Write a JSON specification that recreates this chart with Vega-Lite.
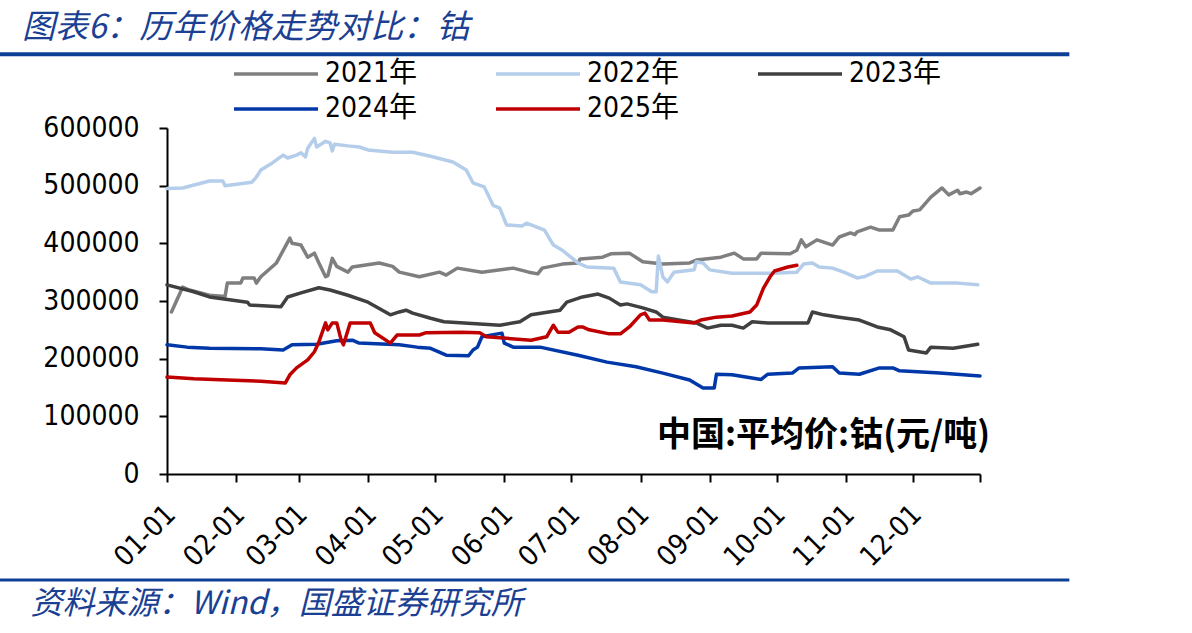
{
  "$schema": "https://vega.github.io/schema/vega-lite/v6.json",
  "width": 813,
  "height": 346,
  "autosize": {"type": "none"},
  "padding": {"left": 167, "top": 128, "right": 212, "bottom": 159},
  "background": "white",
  "title": {
    "text": "图表6：历年价格走势对比：钴",
    "anchor": "start",
    "frame": "group",
    "dx": -145,
    "offset": -26,
    "baseline": "bottom",
    "font": "Noto Sans CJK SC",
    "fontSize": 33,
    "fontStyle": "italic",
    "fontWeight": "normal",
    "color": "#1B3F93"
  },
  "config": {
    "view": {"stroke": null},
    "axis": {
      "domainColor": "black",
      "domainWidth": 2,
      "tickColor": "black",
      "tickWidth": 2,
      "tickSize": 8,
      "labelFont": "DejaVu Sans Condensed",
      "labelFontSize": 28,
      "labelColor": "black",
      "grid": false
    },
    "legend": {
      "title": null,
      "orient": "none",
      "legendX": 93,
      "legendY": -70,
      "direction": "horizontal",
      "columns": 3,
      "columnPadding": 71,
      "rowPadding": 5,
      "padding": 0,
      "symbolType": "M-3,0H3",
      "symbolSize": 784,
      "labelFont": "DejaVu Sans Condensed, Noto Sans CJK SC",
      "labelFontSize": 28,
      "labelColor": "black",
      "labelOffset": 33,
      "labelLimit": 300
    }
  },
  "layer": [
    {
      "data": {
        "format": {"parse": {"md": "date:'%m-%d'"}},
        "values": [
          {"year": "2021年", "md": "01-03", "price": 281000},
          {"year": "2021年", "md": "01-08", "price": 324000},
          {"year": "2021年", "md": "01-11", "price": 319000},
          {"year": "2021年", "md": "01-20", "price": 310000},
          {"year": "2021年", "md": "01-27", "price": 308000},
          {"year": "2021年", "md": "01-28", "price": 331000},
          {"year": "2021年", "md": "02-03", "price": 331000},
          {"year": "2021年", "md": "02-04", "price": 340000},
          {"year": "2021年", "md": "02-09", "price": 340000},
          {"year": "2021年", "md": "02-10", "price": 331000},
          {"year": "2021年", "md": "02-12", "price": 342000},
          {"year": "2021年", "md": "02-19", "price": 366000},
          {"year": "2021年", "md": "02-25", "price": 409000},
          {"year": "2021年", "md": "02-26", "price": 400000},
          {"year": "2021年", "md": "03-02", "price": 397000},
          {"year": "2021年", "md": "03-05", "price": 376000},
          {"year": "2021年", "md": "03-08", "price": 383000},
          {"year": "2021年", "md": "03-10", "price": 366000},
          {"year": "2021年", "md": "03-13", "price": 342000},
          {"year": "2021年", "md": "03-14", "price": 344000},
          {"year": "2021年", "md": "03-16", "price": 374000},
          {"year": "2021年", "md": "03-18", "price": 360000},
          {"year": "2021年", "md": "03-23", "price": 350000},
          {"year": "2021年", "md": "03-25", "price": 359000},
          {"year": "2021年", "md": "04-06", "price": 366000},
          {"year": "2021年", "md": "04-12", "price": 360000},
          {"year": "2021年", "md": "04-15", "price": 350000},
          {"year": "2021年", "md": "04-24", "price": 342000},
          {"year": "2021年", "md": "05-03", "price": 350000},
          {"year": "2021年", "md": "05-06", "price": 345000},
          {"year": "2021年", "md": "05-11", "price": 357000},
          {"year": "2021年", "md": "05-22", "price": 350000},
          {"year": "2021年", "md": "06-05", "price": 357000},
          {"year": "2021年", "md": "06-12", "price": 350000},
          {"year": "2021年", "md": "06-16", "price": 347000},
          {"year": "2021年", "md": "06-18", "price": 357000},
          {"year": "2021年", "md": "06-27", "price": 364000},
          {"year": "2021年", "md": "07-04", "price": 366000},
          {"year": "2021年", "md": "07-05", "price": 373000},
          {"year": "2021年", "md": "07-15", "price": 376000},
          {"year": "2021年", "md": "07-19", "price": 382000},
          {"year": "2021年", "md": "07-27", "price": 383000},
          {"year": "2021年", "md": "08-02", "price": 368000},
          {"year": "2021年", "md": "08-11", "price": 364000},
          {"year": "2021年", "md": "08-23", "price": 366000},
          {"year": "2021年", "md": "08-26", "price": 371000},
          {"year": "2021年", "md": "09-06", "price": 376000},
          {"year": "2021年", "md": "09-12", "price": 383000},
          {"year": "2021年", "md": "09-16", "price": 373000},
          {"year": "2021年", "md": "09-22", "price": 373000},
          {"year": "2021年", "md": "09-24", "price": 383000},
          {"year": "2021年", "md": "10-07", "price": 382000},
          {"year": "2021年", "md": "10-10", "price": 388000},
          {"year": "2021年", "md": "10-12", "price": 406000},
          {"year": "2021年", "md": "10-14", "price": 394000},
          {"year": "2021年", "md": "10-19", "price": 406000},
          {"year": "2021年", "md": "10-26", "price": 397000},
          {"year": "2021年", "md": "10-29", "price": 411000},
          {"year": "2021年", "md": "11-03", "price": 418000},
          {"year": "2021年", "md": "11-05", "price": 415000},
          {"year": "2021年", "md": "11-06", "price": 420000},
          {"year": "2021年", "md": "11-12", "price": 428000},
          {"year": "2021年", "md": "11-16", "price": 423000},
          {"year": "2021年", "md": "11-22", "price": 423000},
          {"year": "2021年", "md": "11-25", "price": 446000},
          {"year": "2021年", "md": "11-29", "price": 449000},
          {"year": "2021年", "md": "12-01", "price": 456000},
          {"year": "2021年", "md": "12-04", "price": 458000},
          {"year": "2021年", "md": "12-09", "price": 480000},
          {"year": "2021年", "md": "12-14", "price": 496000},
          {"year": "2021年", "md": "12-17", "price": 484000},
          {"year": "2021年", "md": "12-21", "price": 492000},
          {"year": "2021年", "md": "12-22", "price": 486000},
          {"year": "2021年", "md": "12-25", "price": 489000},
          {"year": "2021年", "md": "12-27", "price": 486000},
          {"year": "2021年", "md": "12-31", "price": 496000},

          {"year": "2022年", "md": "01-01", "price": 495000},
          {"year": "2022年", "md": "01-08", "price": 496000},
          {"year": "2022年", "md": "01-20", "price": 508000},
          {"year": "2022年", "md": "01-26", "price": 508000},
          {"year": "2022年", "md": "01-27", "price": 500000},
          {"year": "2022年", "md": "02-08", "price": 506000},
          {"year": "2022年", "md": "02-10", "price": 515000},
          {"year": "2022年", "md": "02-12", "price": 527000},
          {"year": "2022年", "md": "02-17", "price": 539000},
          {"year": "2022年", "md": "02-22", "price": 553000},
          {"year": "2022年", "md": "02-24", "price": 548000},
          {"year": "2022年", "md": "02-28", "price": 553000},
          {"year": "2022年", "md": "03-02", "price": 557000},
          {"year": "2022年", "md": "03-04", "price": 550000},
          {"year": "2022年", "md": "03-05", "price": 565000},
          {"year": "2022年", "md": "03-08", "price": 582000},
          {"year": "2022年", "md": "03-09", "price": 567000},
          {"year": "2022年", "md": "03-13", "price": 577000},
          {"year": "2022年", "md": "03-15", "price": 574000},
          {"year": "2022年", "md": "03-16", "price": 560000},
          {"year": "2022年", "md": "03-17", "price": 572000},
          {"year": "2022年", "md": "03-23", "price": 569000},
          {"year": "2022年", "md": "03-28", "price": 567000},
          {"year": "2022年", "md": "04-01", "price": 562000},
          {"year": "2022年", "md": "04-12", "price": 558000},
          {"year": "2022年", "md": "04-21", "price": 558000},
          {"year": "2022年", "md": "04-29", "price": 551000},
          {"year": "2022年", "md": "05-09", "price": 541000},
          {"year": "2022年", "md": "05-15", "price": 527000},
          {"year": "2022年", "md": "05-18", "price": 505000},
          {"year": "2022年", "md": "05-23", "price": 498000},
          {"year": "2022年", "md": "05-27", "price": 466000},
          {"year": "2022年", "md": "05-30", "price": 461000},
          {"year": "2022年", "md": "06-02", "price": 432000},
          {"year": "2022年", "md": "06-09", "price": 430000},
          {"year": "2022年", "md": "06-11", "price": 435000},
          {"year": "2022年", "md": "06-19", "price": 423000},
          {"year": "2022年", "md": "06-23", "price": 397000},
          {"year": "2022年", "md": "06-27", "price": 388000},
          {"year": "2022年", "md": "07-04", "price": 366000},
          {"year": "2022年", "md": "07-08", "price": 359000},
          {"year": "2022年", "md": "07-20", "price": 357000},
          {"year": "2022年", "md": "07-23", "price": 333000},
          {"year": "2022年", "md": "08-01", "price": 328000},
          {"year": "2022年", "md": "08-06", "price": 316000},
          {"year": "2022年", "md": "08-08", "price": 316000},
          {"year": "2022年", "md": "08-09", "price": 378000},
          {"year": "2022年", "md": "08-11", "price": 342000},
          {"year": "2022年", "md": "08-13", "price": 333000},
          {"year": "2022年", "md": "08-16", "price": 350000},
          {"year": "2022年", "md": "08-25", "price": 354000},
          {"year": "2022年", "md": "08-26", "price": 368000},
          {"year": "2022年", "md": "08-29", "price": 366000},
          {"year": "2022年", "md": "09-01", "price": 354000},
          {"year": "2022年", "md": "09-11", "price": 348000},
          {"year": "2022年", "md": "09-29", "price": 348000},
          {"year": "2022年", "md": "10-10", "price": 350000},
          {"year": "2022年", "md": "10-13", "price": 364000},
          {"year": "2022年", "md": "10-17", "price": 366000},
          {"year": "2022年", "md": "10-20", "price": 359000},
          {"year": "2022年", "md": "10-26", "price": 357000},
          {"year": "2022年", "md": "10-31", "price": 350000},
          {"year": "2022年", "md": "11-06", "price": 340000},
          {"year": "2022年", "md": "11-09", "price": 342000},
          {"year": "2022年", "md": "11-15", "price": 352000},
          {"year": "2022年", "md": "11-24", "price": 352000},
          {"year": "2022年", "md": "11-30", "price": 338000},
          {"year": "2022年", "md": "12-03", "price": 342000},
          {"year": "2022年", "md": "12-09", "price": 331000},
          {"year": "2022年", "md": "12-21", "price": 331000},
          {"year": "2022年", "md": "12-30", "price": 328000},

          {"year": "2023年", "md": "01-01", "price": 328000},
          {"year": "2023年", "md": "01-13", "price": 316000},
          {"year": "2023年", "md": "01-20", "price": 307000},
          {"year": "2023年", "md": "02-06", "price": 298000},
          {"year": "2023年", "md": "02-07", "price": 293000},
          {"year": "2023年", "md": "02-21", "price": 290000},
          {"year": "2023年", "md": "02-24", "price": 307000},
          {"year": "2023年", "md": "03-02", "price": 314000},
          {"year": "2023年", "md": "03-10", "price": 323000},
          {"year": "2023年", "md": "03-15", "price": 319000},
          {"year": "2023年", "md": "03-23", "price": 310000},
          {"year": "2023年", "md": "04-01", "price": 298000},
          {"year": "2023年", "md": "04-11", "price": 276000},
          {"year": "2023年", "md": "04-15", "price": 281000},
          {"year": "2023年", "md": "04-18", "price": 284000},
          {"year": "2023年", "md": "04-21", "price": 279000},
          {"year": "2023年", "md": "04-29", "price": 270000},
          {"year": "2023年", "md": "05-05", "price": 264000},
          {"year": "2023年", "md": "05-14", "price": 262000},
          {"year": "2023年", "md": "05-30", "price": 258000},
          {"year": "2023年", "md": "06-08", "price": 264000},
          {"year": "2023年", "md": "06-13", "price": 276000},
          {"year": "2023年", "md": "06-26", "price": 284000},
          {"year": "2023年", "md": "06-29", "price": 298000},
          {"year": "2023年", "md": "07-06", "price": 307000},
          {"year": "2023年", "md": "07-13", "price": 312000},
          {"year": "2023年", "md": "07-18", "price": 305000},
          {"year": "2023年", "md": "07-23", "price": 293000},
          {"year": "2023年", "md": "07-26", "price": 295000},
          {"year": "2023年", "md": "08-02", "price": 288000},
          {"year": "2023年", "md": "08-08", "price": 281000},
          {"year": "2023年", "md": "08-11", "price": 272000},
          {"year": "2023年", "md": "08-26", "price": 262000},
          {"year": "2023年", "md": "08-31", "price": 253000},
          {"year": "2023年", "md": "09-06", "price": 258000},
          {"year": "2023年", "md": "09-11", "price": 258000},
          {"year": "2023年", "md": "09-16", "price": 253000},
          {"year": "2023年", "md": "09-20", "price": 264000},
          {"year": "2023年", "md": "09-27", "price": 262000},
          {"year": "2023年", "md": "10-15", "price": 262000},
          {"year": "2023年", "md": "10-17", "price": 281000},
          {"year": "2023年", "md": "10-22", "price": 276000},
          {"year": "2023年", "md": "10-29", "price": 272000},
          {"year": "2023年", "md": "11-07", "price": 267000},
          {"year": "2023年", "md": "11-15", "price": 255000},
          {"year": "2023年", "md": "11-21", "price": 250000},
          {"year": "2023年", "md": "11-27", "price": 238000},
          {"year": "2023年", "md": "11-29", "price": 215000},
          {"year": "2023年", "md": "12-07", "price": 210000},
          {"year": "2023年", "md": "12-09", "price": 220000},
          {"year": "2023年", "md": "12-19", "price": 218000},
          {"year": "2023年", "md": "12-30", "price": 225000},

          {"year": "2024年", "md": "01-01", "price": 224000},
          {"year": "2024年", "md": "01-10", "price": 220000},
          {"year": "2024年", "md": "01-20", "price": 218000},
          {"year": "2024年", "md": "02-12", "price": 217000},
          {"year": "2024年", "md": "02-22", "price": 215000},
          {"year": "2024年", "md": "02-26", "price": 224000},
          {"year": "2024年", "md": "03-09", "price": 225000},
          {"year": "2024年", "md": "03-18", "price": 231000},
          {"year": "2024年", "md": "03-25", "price": 232000},
          {"year": "2024年", "md": "03-28", "price": 227000},
          {"year": "2024年", "md": "04-15", "price": 224000},
          {"year": "2024年", "md": "04-23", "price": 220000},
          {"year": "2024年", "md": "04-29", "price": 218000},
          {"year": "2024年", "md": "05-06", "price": 206000},
          {"year": "2024年", "md": "05-16", "price": 205000},
          {"year": "2024年", "md": "05-18", "price": 215000},
          {"year": "2024年", "md": "05-20", "price": 220000},
          {"year": "2024年", "md": "05-22", "price": 238000},
          {"year": "2024年", "md": "05-29", "price": 243000},
          {"year": "2024年", "md": "05-31", "price": 244000},
          {"year": "2024年", "md": "06-01", "price": 227000},
          {"year": "2024年", "md": "06-05", "price": 220000},
          {"year": "2024年", "md": "06-17", "price": 220000},
          {"year": "2024年", "md": "07-04", "price": 206000},
          {"year": "2024年", "md": "07-17", "price": 194000},
          {"year": "2024年", "md": "07-30", "price": 186000},
          {"year": "2024年", "md": "08-11", "price": 175000},
          {"year": "2024年", "md": "08-23", "price": 163000},
          {"year": "2024年", "md": "08-29", "price": 149000},
          {"year": "2024年", "md": "09-03", "price": 149000},
          {"year": "2024年", "md": "09-04", "price": 173000},
          {"year": "2024年", "md": "09-11", "price": 172000},
          {"year": "2024年", "md": "09-24", "price": 164000},
          {"year": "2024年", "md": "09-27", "price": 173000},
          {"year": "2024年", "md": "10-08", "price": 175000},
          {"year": "2024年", "md": "10-11", "price": 184000},
          {"year": "2024年", "md": "10-26", "price": 186000},
          {"year": "2024年", "md": "10-29", "price": 175000},
          {"year": "2024年", "md": "11-07", "price": 173000},
          {"year": "2024年", "md": "11-16", "price": 184000},
          {"year": "2024年", "md": "11-22", "price": 184000},
          {"year": "2024年", "md": "11-25", "price": 179000},
          {"year": "2024年", "md": "12-13", "price": 175000},
          {"year": "2024年", "md": "12-31", "price": 170000},

          {"year": "2025年", "md": "01-01", "price": 168000},
          {"year": "2025年", "md": "01-13", "price": 165000},
          {"year": "2025年", "md": "01-28", "price": 163000},
          {"year": "2025年", "md": "02-12", "price": 161000},
          {"year": "2025年", "md": "02-23", "price": 158000},
          {"year": "2025年", "md": "02-25", "price": 172000},
          {"year": "2025年", "md": "02-28", "price": 184000},
          {"year": "2025年", "md": "03-05", "price": 198000},
          {"year": "2025年", "md": "03-08", "price": 212000},
          {"year": "2025年", "md": "03-10", "price": 229000},
          {"year": "2025年", "md": "03-13", "price": 262000},
          {"year": "2025年", "md": "03-14", "price": 250000},
          {"year": "2025年", "md": "03-16", "price": 262000},
          {"year": "2025年", "md": "03-18", "price": 262000},
          {"year": "2025年", "md": "03-20", "price": 232000},
          {"year": "2025年", "md": "03-21", "price": 224000},
          {"year": "2025年", "md": "03-24", "price": 262000},
          {"year": "2025年", "md": "04-02", "price": 262000},
          {"year": "2025年", "md": "04-04", "price": 245000},
          {"year": "2025年", "md": "04-11", "price": 227000},
          {"year": "2025年", "md": "04-14", "price": 241000},
          {"year": "2025年", "md": "04-24", "price": 241000},
          {"year": "2025年", "md": "04-27", "price": 245000},
          {"year": "2025年", "md": "05-13", "price": 246000},
          {"year": "2025年", "md": "05-21", "price": 245000},
          {"year": "2025年", "md": "05-24", "price": 238000},
          {"year": "2025年", "md": "06-13", "price": 232000},
          {"year": "2025年", "md": "06-20", "price": 238000},
          {"year": "2025年", "md": "06-23", "price": 258000},
          {"year": "2025年", "md": "06-25", "price": 246000},
          {"year": "2025年", "md": "06-30", "price": 246000},
          {"year": "2025年", "md": "07-04", "price": 255000},
          {"year": "2025年", "md": "07-06", "price": 255000},
          {"year": "2025年", "md": "07-09", "price": 250000},
          {"year": "2025年", "md": "07-18", "price": 243000},
          {"year": "2025年", "md": "07-23", "price": 243000},
          {"year": "2025年", "md": "07-27", "price": 255000},
          {"year": "2025年", "md": "08-01", "price": 276000},
          {"year": "2025年", "md": "08-03", "price": 279000},
          {"year": "2025年", "md": "08-05", "price": 267000},
          {"year": "2025年", "md": "08-11", "price": 267000},
          {"year": "2025年", "md": "08-25", "price": 262000},
          {"year": "2025年", "md": "08-28", "price": 267000},
          {"year": "2025年", "md": "09-04", "price": 272000},
          {"year": "2025年", "md": "09-11", "price": 274000},
          {"year": "2025年", "md": "09-19", "price": 281000},
          {"year": "2025年", "md": "09-22", "price": 293000},
          {"year": "2025年", "md": "09-25", "price": 322000},
          {"year": "2025年", "md": "09-28", "price": 342000},
          {"year": "2025年", "md": "09-30", "price": 352000},
          {"year": "2025年", "md": "10-06", "price": 359000},
          {"year": "2025年", "md": "10-10", "price": 362000}
        ]
      },
      "mark": {"type": "line", "strokeJoin": "round", "strokeCap": "round"},
      "encoding": {
        "x": {
          "field": "md",
          "type": "temporal",
          "scale": {"domain": [{"year": 1900, "month": 1, "date": 1}, {"year": 1900, "month": 12, "date": 31}]},
          "axis": {
            "values": [
              {"year": 1900, "month": 1, "date": 1},
              {"year": 1900, "month": 2, "date": 1},
              {"year": 1900, "month": 3, "date": 1},
              {"year": 1900, "month": 4, "date": 1},
              {"year": 1900, "month": 5, "date": 1},
              {"year": 1900, "month": 6, "date": 1},
              {"year": 1900, "month": 7, "date": 1},
              {"year": 1900, "month": 8, "date": 1},
              {"year": 1900, "month": 9, "date": 1},
              {"year": 1900, "month": 10, "date": 1},
              {"year": 1900, "month": 11, "date": 1},
              {"year": 1900, "month": 12, "date": 1},
              {"year": 1900, "month": 12, "date": 31}
            ],
            "format": "%m-%d",
            "labelExpr": "timeFormat(datum.value, '%m-%d') == '12-31' ? '' : datum.label",
            "labelAngle": -45,
            "labelAlign": "right",
            "labelBaseline": "middle",
            "labelPadding": 28,
            "labelOffset": 4,
            "labelOverlap": false,
            "labelFlush": false,
            "labelBound": false,
            "title": "资料来源：Wind，国盛证券研究所",
            "titleX": -137,
            "titleY": 129,
            "titleAlign": "left",
            "titleBaseline": "middle",
            "titleAngle": 0,
            "titleFont": "Noto Sans CJK SC",
            "titleFontSize": 32,
            "titleFontStyle": "italic",
            "titleFontWeight": "normal",
            "titleColor": "#1B3F93"
          }
        },
        "y": {
          "field": "price",
          "type": "quantitative",
          "scale": {"domain": [0, 600000]},
          "axis": {
            "values": [0, 100000, 200000, 300000, 400000, 500000, 600000],
            "format": "d",
            "title": null,
            "labelPadding": 20
          }
        },
        "color": {
          "field": "year",
          "type": "nominal",
          "scale": {
            "domain": ["2021年", "2022年", "2023年", "2024年", "2025年"],
            "range": ["#7F7F7F", "#B4CDEA", "#404040", "#0038A8", "#C00000"]
          }
        },
        "strokeWidth": {
          "field": "year",
          "type": "nominal",
          "scale": {
            "domain": ["2021年", "2022年", "2023年", "2024年", "2025年"],
            "range": [3.5, 3.5, 3.5, 5.5, 5.5]
          }
        }
      }
    },
    {
      "data": {"values": [{"label": "中国:平均价:钴(元/吨)"}]},
      "mark": {
        "type": "text",
        "font": "Noto Sans CJK SC",
        "fontWeight": "bold",
        "fontSize": 34,
        "align": "right",
        "baseline": "middle",
        "dx": 10,
        "color": "black"
      },
      "encoding": {
        "x": {"datum": {"year": 1900, "month": 12, "date": 31}, "type": "temporal"},
        "y": {"datum": 66000, "type": "quantitative"},
        "text": {"field": "label"}
      }
    },
    {
      "data": {"values": [{"line": "header"}]},
      "mark": {"type": "rule", "color": "#0C3F95", "strokeWidth": 4, "clip": false},
      "encoding": {
        "x": {"datum": {"year": 1899, "month": 10, "date": 18}, "type": "temporal"},
        "x2": {"datum": {"year": 1901, "month": 2, "date": 9}},
        "y": {"datum": 728000, "type": "quantitative"}
      }
    },
    {
      "data": {"values": [{"line": "footer"}]},
      "mark": {"type": "rule", "color": "#0C3F95", "strokeWidth": 3, "clip": false},
      "encoding": {
        "x": {"datum": {"year": 1899, "month": 10, "date": 18}, "type": "temporal"},
        "x2": {"datum": {"year": 1901, "month": 2, "date": 9}},
        "y": {"datum": -184000, "type": "quantitative"}
      }
    }
  ]
}
